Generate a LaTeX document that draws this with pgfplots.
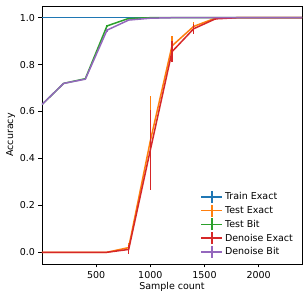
\documentclass[border=0pt]{standalone}
\usepackage{fontspec}
\setmainfont{DejaVu Sans}
\usepackage{pgfplots}
\pgfplotsset{compat=1.18}
\definecolor{c0}{HTML}{1F77B4}
\definecolor{c1}{HTML}{FF7F0E}
\definecolor{c2}{HTML}{2CA02C}
\definecolor{c3}{HTML}{D62728}
\definecolor{c4}{HTML}{9467BD}
\pgfplotsset{
  ebar/.style={line width=1.5pt, mark=none,
    error bars/y dir=both, error bars/y explicit, error bars/error mark=none,
    error bars/error bar style={line width=1.5pt}},
  elegend/.style={legend image code/.code={
    \draw[line width=1.5pt] (0pt,0pt) -- (21pt,0pt);
    \draw[line width=1.5pt] (10.5pt,-6pt) -- (10.5pt,6pt);}}
}
\begin{document}
\begin{tikzpicture}
\begin{axis}[
  scale only axis, width=260pt, height=258pt,
  xmin=0, xmax=2400, ymin=-0.05, ymax=1.05,
  xtick={500,1000,1500,2000},
  ytick={0,0.2,0.4,0.6,0.8,1.0},
  xticklabel style={/pgf/number format/.cd, 1000 sep={}},
  yticklabel style={/pgf/number format/.cd, fixed, fixed zerofill, precision=1},
  /pgf/number format/assume math mode=true,
  tick align=outside, tick pos=left,
  major tick length=3.5pt,
  tick style={black, line width=0.6pt},
  axis line style={line width=0.6pt},
  font=\fontsize{9.5}{11}\selectfont,
  xlabel={Sample count}, ylabel={Accuracy},
  xlabel style={yshift=3pt}, ylabel style={yshift=-2pt},
  legend style={draw=none, fill=none, row sep=0.3pt, font=\fontsize{9.5}{10.5}\selectfont, at={(0.985,0.012)}, anchor=south east},
  legend cell align=left,
]
\addplot[ebar, c0, elegend] table[x=x, y=y, y error=e] {
x y e
0 1.0 0
200 1.0 0
400 1.0 0
600 1.0 0
800 1.0 0
1000 1.0 0
1200 1.0 0
1400 1.0 0
1600 1.0 0
1800 1.0 0
2000 1.0 0
2200 1.0 0
2400 1.0 0
};
\addlegendentry{Train Exact}
\addplot[ebar, c1, elegend] table[x=x, y=y, y error=e] {
x y e
0 0.0 0
200 0.0 0
400 0.0 0
600 0.0 0
800 0.02 0.02
1000 0.475 0.19
1200 0.88 0.04
1400 0.963 0.02
1600 0.998 0.003
1800 1.0 0
2000 1.0 0
2200 1.0 0
2400 1.0 0
};
\addlegendentry{Test Exact}
\addplot[ebar, c2, elegend] table[x=x, y=y, y error=e] {
x y e
0 0.63 0
200 0.72 0.003
400 0.74 0.004
600 0.965 0.006
800 0.997 0.002
1000 1.0 0
1200 1.0 0
1400 1.0 0
1600 1.0 0
1800 1.0 0
2000 1.0 0
2200 1.0 0
2400 1.0 0
};
\addlegendentry{Test Bit}
\addplot[ebar, c3, elegend] table[x=x, y=y, y error=e] {
x y e
0 0.0 0
200 0.0 0
400 0.0 0
600 0.0 0
800 0.012 0.02
1000 0.436 0.17
1200 0.855 0.045
1400 0.953 0.022
1600 0.995 0.004
1800 1.0 0
2000 1.0 0
2200 1.0 0
2400 1.0 0
};
\addlegendentry{Denoise Exact}
\addplot[ebar, c4, elegend] table[x=x, y=y, y error=e] {
x y e
0 0.63 0
200 0.72 0.003
400 0.738 0.004
600 0.947 0.006
800 0.99 0.003
1000 0.998 0.001
1200 1.0 0
1400 1.0 0
1600 1.0 0
1800 1.0 0
2000 1.0 0
2200 1.0 0
2400 1.0 0
};
\addlegendentry{Denoise Bit}
\coordinate (sw) at (rel axis cs:0,0);
\coordinate (ne) at (rel axis cs:1,1);
\end{axis}
\pgfresetboundingbox
\path[use as bounding box] ([xshift=-42pt,yshift=-37pt]sw) rectangle ([xshift=6pt,yshift=6pt]ne);
\end{tikzpicture}
\end{document}
